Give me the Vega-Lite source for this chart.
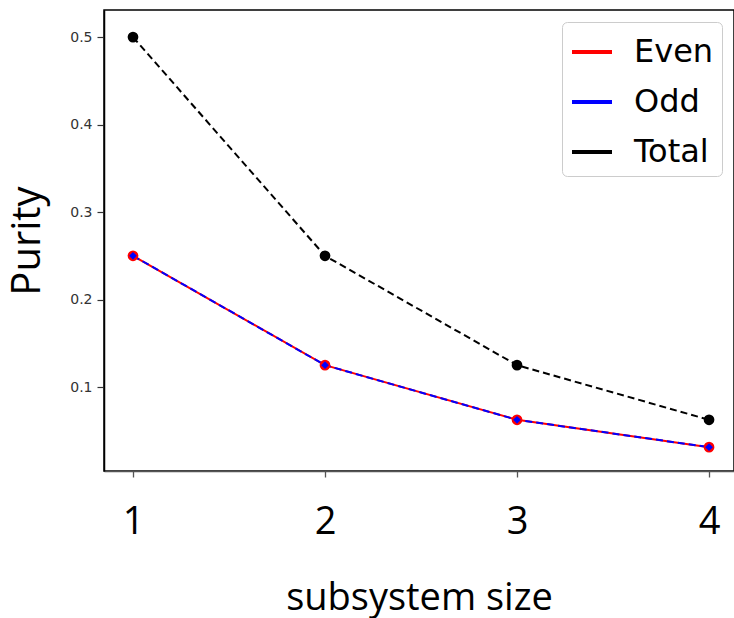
{
  "$schema": "https://vega.github.io/schema/vega-lite/v6.json",
  "width": 630,
  "height": 461,
  "autosize": {"type": "none"},
  "padding": {"left": 104, "top": 10, "right": 0, "bottom": 147},
  "background": "white",
  "config": {"view": {"stroke": "#000", "strokeWidth": 1.5}, "axis": {"grid": false}},
  "data": {
    "values": [
      {"n": 1, "purity": 0.25, "series": "Even"},
      {"n": 2, "purity": 0.125, "series": "Even"},
      {"n": 3, "purity": 0.0625, "series": "Even"},
      {"n": 4, "purity": 0.03125, "series": "Even"},
      {"n": 1, "purity": 0.25, "series": "Odd"},
      {"n": 2, "purity": 0.125, "series": "Odd"},
      {"n": 3, "purity": 0.0625, "series": "Odd"},
      {"n": 4, "purity": 0.03125, "series": "Odd"},
      {"n": 1, "purity": 0.5, "series": "Total"},
      {"n": 2, "purity": 0.25, "series": "Total"},
      {"n": 3, "purity": 0.125, "series": "Total"},
      {"n": 4, "purity": 0.0625, "series": "Total"}
    ]
  },
  "encoding": {
    "x": {
      "field": "n", "type": "quantitative",
      "scale": {"domain": [0.849, 4.13], "nice": false, "zero": false},
      "axis": {
        "values": [1, 2, 3, 4], "format": "d",
        "title": "subsystem size",
        "labelFont": "Open Sans", "labelFontSize": 38, "labelColor": "#000", "labelPadding": 26,
        "tickSize": 6, "tickColor": "#555", "tickWidth": 1.3,
        "domainColor": "#555", "domainWidth": 1.5,
        "titleFont": "Open Sans", "titleFontSize": 38, "titleFontWeight": "normal", "titleColor": "#000",
        "titlePadding": 38
      }
    },
    "y": {
      "field": "purity", "type": "quantitative",
      "scale": {"domain": [0.004, 0.531], "nice": false, "zero": false},
      "axis": {
        "values": [0.1, 0.2, 0.3, 0.4, 0.5], "format": ".1f",
        "labelFont": "DejaVu Sans", "labelFontSize": 14, "labelColor": "#333", "labelPadding": 5,
        "tickSize": 7, "tickColor": "#333", "tickWidth": 1.2,
        "domainColor": "#000", "domainWidth": 1.5,
        "title": "Purity", "titleFont": "Open Sans", "titleFontSize": 40, "titleFontWeight": "normal", "titleColor": "#000",
        "titlePadding": 22
      }
    },
    "color": {
      "field": "series", "type": "nominal",
      "scale": {"domain": ["Even", "Odd", "Total"], "range": ["#ff0000", "#0000ff", "#000000"]},
      "legend": {
        "title": null, "orient": "top-right", "offset": 12,
        "padding": 8, "fillColor": "#ffffff", "strokeColor": "#cccccc", "cornerRadius": 5,
        "symbolType": "stroke", "symbolSize": 1600, "symbolStrokeWidth": 4, "rowPadding": 12, "labelOffset": 20,
        "labelFont": "DejaVu Sans", "labelFontSize": 32, "labelColor": "#000"
      }
    }
  },
  "layer": [
    {
      "transform": [{"filter": "datum.series === 'Even'"}],
      "mark": {"type": "line", "strokeWidth": 2}
    },
    {
      "transform": [{"filter": "datum.series === 'Odd'"}],
      "mark": {"type": "line", "strokeWidth": 2, "strokeDash": [7, 4]}
    },
    {
      "transform": [{"filter": "datum.series === 'Total'"}],
      "mark": {"type": "line", "strokeWidth": 2, "strokeDash": [7, 4]}
    },
    {
      "transform": [{"filter": "datum.series !== 'Odd'"}],
      "mark": {"type": "point", "shape": "circle", "filled": true, "opacity": 1, "size": 115}
    },
    {
      "transform": [{"filter": "datum.series === 'Odd'"}],
      "mark": {"type": "point", "shape": "diamond", "filled": true, "opacity": 1, "size": 60}
    }
  ]
}
